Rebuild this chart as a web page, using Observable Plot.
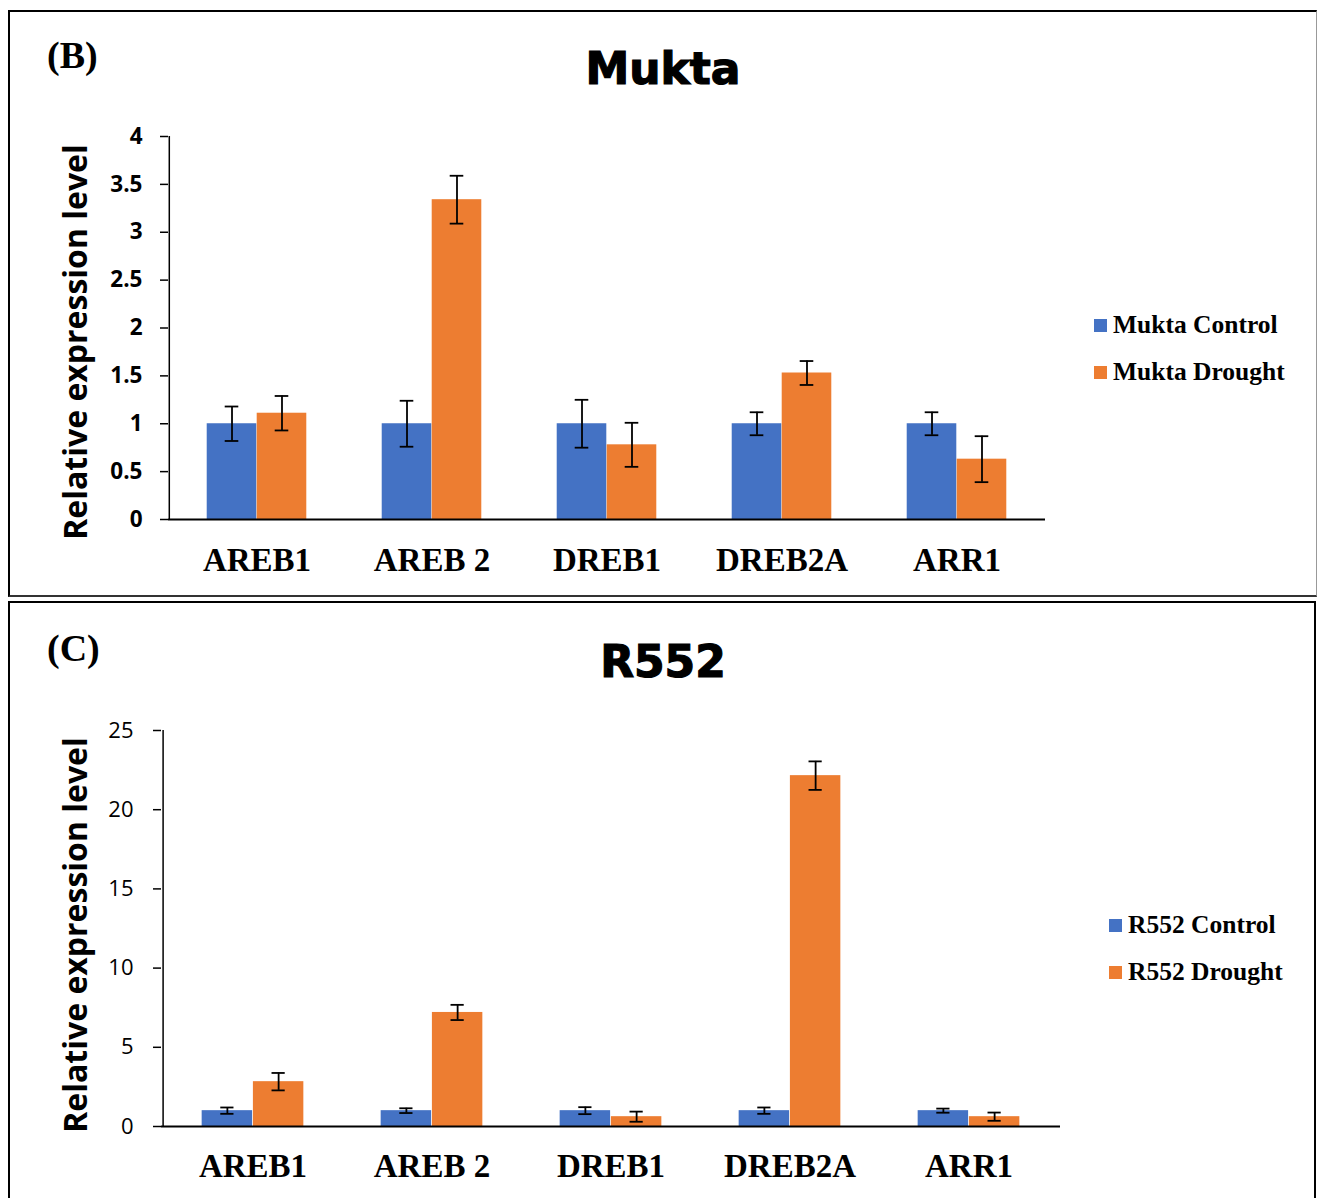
<!DOCTYPE html>
<html>
<head>
<meta charset="utf-8">
<script src="https://cdn.jsdelivr.net/npm/d3@7"></script>
<script src="https://cdn.jsdelivr.net/npm/@observablehq/plot@0.6"></script>
<style>
  body { margin: 0; background: #fff; }
  #page { position: relative; width: 1317px; height: 1198px; overflow: hidden; background: #fff; }
  .abs { position: absolute; }
  .title { font-family: "DejaVu Sans", sans-serif; font-weight: bold; font-size: 44px; line-height: 44px; text-align: center; color: #000; white-space: nowrap; -webkit-text-stroke: 1.2px #000; }
  .tag { font-family: "Liberation Serif", serif; font-weight: bold; font-size: 38px; line-height: 38px; color: #000; white-space: nowrap; }
  .ylab { font-family: "Open Sans", sans-serif; font-weight: bold; font-size: 32px; text-align: center; color: #000; white-space: nowrap; transform: rotate(-90deg); }
  .leg { font-family: "Liberation Serif", serif; font-weight: bold; font-size: 25.5px; line-height: 25px; color: #000; white-space: nowrap; }
  svg { position: absolute; }
</style>
</head>
<body>
<div id="page"></div>
<script>
// ---------------- data ----------------
const genes = ["AREB1", "AREB 2", "DREB1", "DREB2A", "ARR1"];
const seriesColors = ["#4472C4", "#ED7D31"];

const muktaSeries = ["Mukta Control", "Mukta Drought"];
const muktaControl = [1, 1, 1, 1, 1];
const muktaControlErr = [0.18, 0.24, 0.25, 0.12, 0.12];
const muktaDrought = [1.11, 3.34, 0.78, 1.53, 0.63];
const muktaDroughtErr = [0.18, 0.25, 0.23, 0.125, 0.24];
const muktaTicks = [0, 0.5, 1, 1.5, 2, 2.5, 3, 3.5, 4];

const r552Series = ["R552 Control", "R552 Drought"];
const r552Control = [1, 1, 1, 1, 1];
const r552ControlErr = [0.2, 0.15, 0.22, 0.2, 0.13];
const r552Drought = [2.83, 7.2, 0.62, 22.15, 0.62];
const r552DroughtErr = [0.55, 0.48, 0.32, 0.9, 0.26];
const r552Ticks = [0, 5, 10, 15, 20, 25];

const yLabel = "Relative expression level";

// ---------------- layout helpers ----------------
const page = document.getElementById("page");
function addDiv(cls, text, style) {
  const d = document.createElement("div");
  d.className = "abs " + cls;
  if (text != null) d.textContent = text;
  Object.assign(d.style, style);
  page.appendChild(d);
  return d;
}

function panelChart(cfg) {
  const W = 1317;
  const bw = (W - cfg.marginLeft - cfg.marginRight) / genes.length;
  const barW = bw * 0.285;
  const gap = (bw - 2 * barW) / 2;
  const capHalf = 7;
  const rows = (vals, errs, s) => genes.map((g, i) => ({gene: g, series: s, value: vals[i], err: errs[i]}));
  const ctrl = rows(cfg.control, cfg.controlErr, cfg.names[0]);
  const drt = rows(cfg.drought, cfg.droughtErr, cfg.names[1]);
  const cCenter = gap + barW / 2;
  const dCenter = gap + barW * 1.5;
  const errMarks = (data, center) => [
    Plot.ruleX(data, {x: "gene", y1: d => d.value - d.err, y2: d => d.value + d.err, dx: center - bw / 2, stroke: "#000", strokeWidth: 1.8}),
    Plot.tickY(data, {x: "gene", y: d => d.value + d.err, insetLeft: center - capHalf, insetRight: bw - center - capHalf, stroke: "#000", strokeWidth: 1.8}),
    Plot.tickY(data, {x: "gene", y: d => d.value - d.err, insetLeft: center - capHalf, insetRight: bw - center - capHalf, stroke: "#000", strokeWidth: 1.8})
  ];
  const svg = Plot.plot({
    width: W,
    height: cfg.height,
    marginTop: cfg.marginTop,
    marginBottom: cfg.marginBottom,
    marginLeft: cfg.marginLeft,
    marginRight: cfg.marginRight,
    style: {background: "transparent", overflow: "visible"},
    x: {domain: genes, padding: 0},
    y: {domain: cfg.yDomain},
    color: {domain: cfg.names, range: seriesColors},
    marks: [
      Plot.barY(ctrl, {x: "gene", y: "value", fill: "series", insetLeft: gap, insetRight: gap + barW}),
      Plot.barY(drt, {x: "gene", y: "value", fill: "series", insetLeft: gap + barW, insetRight: gap}),
      ...errMarks(ctrl, cCenter),
      ...errMarks(drt, dCenter),
      Plot.ruleY([0], {stroke: "#000", strokeWidth: 2}),
      Plot.ruleX([genes[0]], {x: d => d, dx: -bw / 2, y1: cfg.yDomain[0], y2: cfg.yDomain[1], stroke: "#000", strokeWidth: 1.5}),
      Plot.axisY({ticks: cfg.ticks, tickFormat: d => String(d), tickSize: 8, tickPadding: cfg.tickPadding, strokeWidth: 1.5,
        fontSize: cfg.tickFontSize, fontWeight: cfg.tickWeight, fontFamily: "Open Sans", label: null}),
      Plot.axisX({tickSize: 0, tickPadding: cfg.xPad, fontSize: 33, fontWeight: "bold", fontFamily: "Liberation Serif", label: null})
    ]
  });
  svg.style.left = "0px";
  svg.style.top = cfg.top + "px";
  svg.style.color = "#000";
  return svg;
}

// ---------------- panel frames ----------------
addDiv("", null, {left: "8px", top: "10px", width: "1309px", height: "587px", boxSizing: "border-box",
  borderTop: "2px solid #000", borderLeft: "2px solid #000", borderRight: "1px solid #999", borderBottom: "2px solid #333"});
addDiv("", null, {left: "8px", top: "601px", width: "1308px", height: "620px", boxSizing: "border-box",
  border: "2px solid #000"});

// ---------------- panel B ----------------
addDiv("tag", "(B)", {left: "47px", top: "36px"});
addDiv("title", "Mukta", {left: "0px", top: "47px", width: "1326px"});
page.appendChild(panelChart({
  top: 100, height: 490, marginTop: 36, marginBottom: 71, marginLeft: 168, marginRight: 272,
  control: muktaControl, controlErr: muktaControlErr, drought: muktaDrought, droughtErr: muktaDroughtErr,
  names: muktaSeries, yDomain: [0, 4], ticks: muktaTicks, tickPadding: 18, tickFontSize: 22.5, tickWeight: "bold", xPad: 28
}));
addDiv("ylab", yLabel, {left: (75 - 220) + "px", top: (342 - 25) + "px", width: "440px", height: "50px", lineHeight: "50px"});

// ---------------- panel C ----------------
addDiv("tag", "(C)", {left: "47px", top: "629px"});
addDiv("title", "R552", {left: "0px", top: "640px", width: "1326px"});
page.appendChild(panelChart({
  top: 700, height: 496, marginTop: 30, marginBottom: 70, marginLeft: 161, marginRight: 257,
  control: r552Control, controlErr: r552ControlErr, drought: r552Drought, droughtErr: r552DroughtErr,
  names: r552Series, yDomain: [0, 25], ticks: r552Ticks, tickPadding: 20, tickFontSize: 22, tickWeight: "normal", xPad: 27
}));
addDiv("ylab", yLabel, {left: (75 - 220) + "px", top: (935 - 25) + "px", width: "440px", height: "50px", lineHeight: "50px"});

// ---------------- legends ----------------
function legend(names, swX, textX, baseTops) {
  names.forEach((n, i) => {
    addDiv("", null, {left: swX + "px", top: (baseTops[i] + 7) + "px", width: "13px", height: "13px", background: seriesColors[i]});
    addDiv("leg", n, {left: textX + "px", top: baseTops[i] + "px"});
  });
}
legend(muktaSeries, 1094, 1113, [312, 359]);
legend(r552Series, 1109, 1128, [912, 959]);
</script>
</body>
</html>
